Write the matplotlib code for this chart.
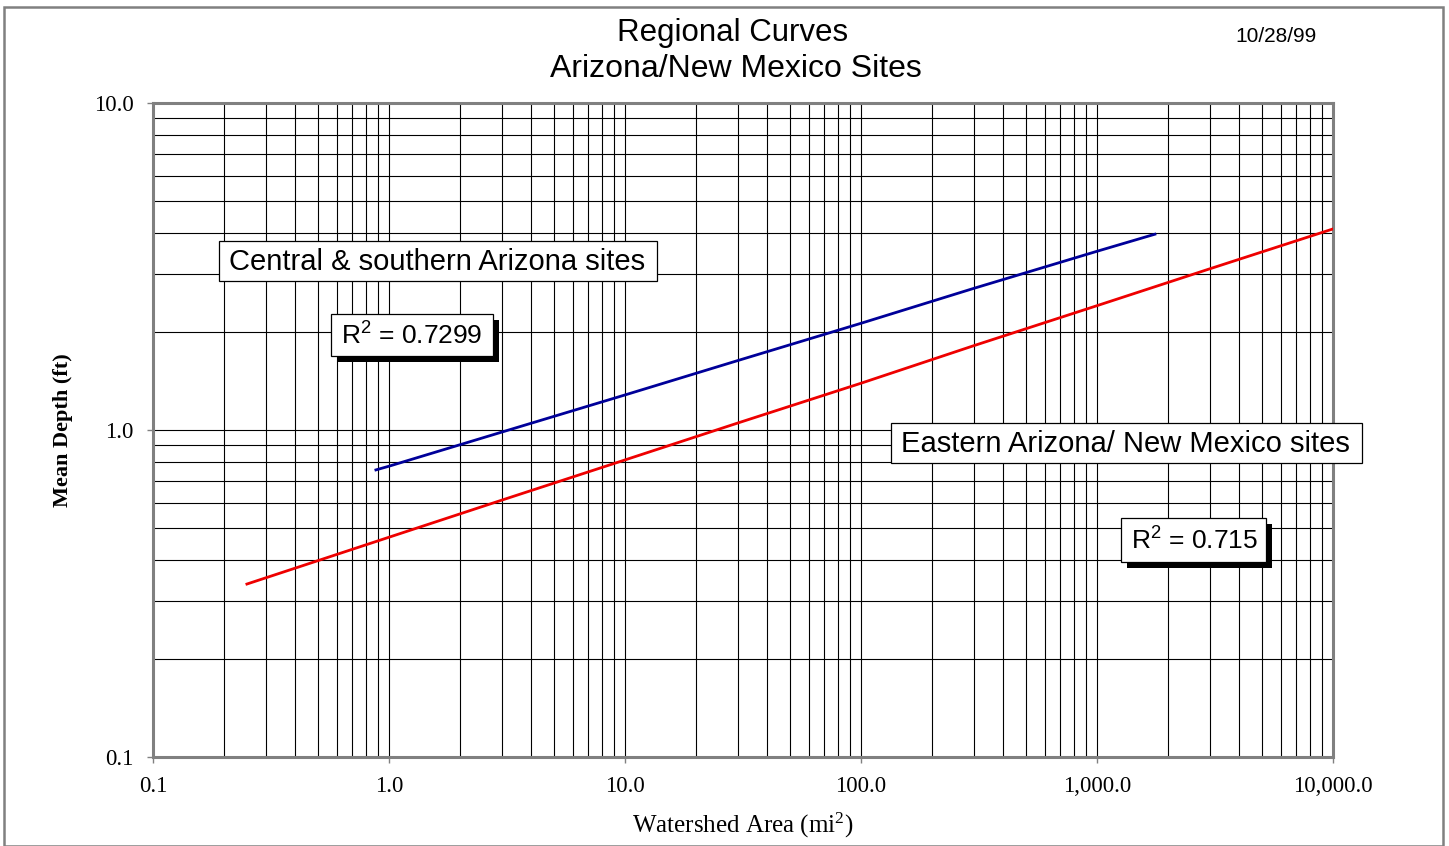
#!/usr/bin/env python3
"""Regional curves, Arizona/New Mexico sites - log-log plot of mean depth vs watershed area"""

import matplotlib
matplotlib.use('Agg')
import matplotlib.pyplot as plt
import matplotlib.patches as patches
from matplotlib.ticker import NullFormatter, LogLocator

# trend lines (watershed area mi^2 -> mean depth ft)
central_area = [0.88, 1.0, 3.0, 10.0, 30.0, 100.0, 300.0, 1000.0, 1760.0]
central_depth = [0.755, 0.775, 0.985, 1.28, 1.63, 2.12, 2.71, 3.52, 3.97]

eastern_area = [0.25, 1.0, 3.0, 10.0, 30.0, 100.0, 300.0, 1000.0, 3000.0, 10000.0]
eastern_depth = [0.338, 0.47, 0.61, 0.81, 1.05, 1.39, 1.81, 2.40, 3.11, 4.12]

x_ticks = [0.1, 1.0, 10.0, 100.0, 1000.0, 10000.0]
x_tick_labels = ['0.1', '1.0', '10.0', '100.0', '1,000.0', '10,000.0']
y_ticks = [0.1, 1.0, 10.0]
y_tick_labels = ['0.1', '1.0', '10.0']

W, H = 1449, 846
GREY = '#808080'
SANS = 'Liberation Sans'
SERIF = 'Liberation Serif'


def px(x, y):
    # pixel position (from top-left) -> figure fraction
    return x / W, 1 - y / H


def add_box(fig, x0, y0, x1, y1, text, shadow=False, fs=21):
    if shadow:
        sx, sy = px(x0 + 6, y1 + 6)
        fig.add_artist(patches.Rectangle((sx, sy), (x1 - x0) / W, (y1 - y0) / H,
                                         transform=fig.transFigure, facecolor='black',
                                         edgecolor='none', zorder=20))
    bx, by = px(x0, y1)
    fig.add_artist(patches.Rectangle((bx, by), (x1 - x0) / W, (y1 - y0) / H,
                                     transform=fig.transFigure, facecolor='white',
                                     edgecolor='black', linewidth=0.9, zorder=21))
    tx, ty = px(x0 + 10, (y0 + y1) / 2 + 1)
    fig.text(tx, ty, text, fontsize=fs, family=SANS, ha='left', va='center', zorder=22)


fig = plt.figure(figsize=(W / 100, H / 100), dpi=100, facecolor='white')
l, b = px(153, 757)
r, t = px(1333, 103)
ax = fig.add_axes([l, b, r - l, t - b])

ax.plot(central_area, central_depth, color='#000099', linewidth=2, zorder=5)
ax.plot(eastern_area, eastern_depth, color='#ee0000', linewidth=2, zorder=5)

ax.set_xscale('log')
ax.set_yscale('log')
ax.set_xlim(0.1, 10000)
ax.set_ylim(0.1, 10)

ax.set_xticks(x_ticks)
ax.set_xticklabels(x_tick_labels)
ax.set_yticks(y_ticks)
ax.set_yticklabels(y_tick_labels)
ax.xaxis.set_minor_locator(LogLocator(base=10, subs=range(2, 10)))
ax.yaxis.set_minor_locator(LogLocator(base=10, subs=range(2, 10)))
ax.xaxis.set_minor_formatter(NullFormatter())
ax.yaxis.set_minor_formatter(NullFormatter())

ax.grid(True, which='both', color='black', linewidth=0.8)
ax.set_axisbelow(True)
ax.tick_params(which='major', direction='out', length=4, width=1, color=GREY,
               labelsize=16.5, pad=10)
ax.tick_params(which='minor', length=0)
for lab in ax.get_xticklabels() + ax.get_yticklabels():
    lab.set_family(SERIF)
for sp in ax.spines.values():
    sp.set_color(GREY)
    sp.set_linewidth(2.2)

ax.set_xlabel(r'Watershed Area (mi$\mathregular{^2}$)', family=SERIF, fontsize=18, labelpad=10)
fig.text(63 / W, 1 - 430 / H, 'Mean Depth (ft)', family=SERIF, fontsize=16,
         fontweight='bold', rotation=90, ha='center', va='center')

# title and date
fig.text(*px(733, 33), 'Regional Curves', family=SANS, fontsize=22.5, ha='center', va='center')
fig.text(*px(736, 69), 'Arizona/New Mexico Sites', family=SANS, fontsize=23,
         ha='center', va='center')
fig.text(*px(1276, 36), '10/28/99', family=SANS, fontsize=15, ha='center', va='center')

# trendline annotations
add_box(fig, 219, 241, 657, 281, 'Central & southern Arizona sites')
add_box(fig, 331, 314, 493, 356, r'R$\mathregular{^2}$ = 0.7299', shadow=True, fs=19)
add_box(fig, 891, 423, 1362, 463, 'Eastern Arizona/ New Mexico sites')
add_box(fig, 1121, 518, 1266, 562, r'R$\mathregular{^2}$ = 0.715', shadow=True, fs=19)

# outer chart frame
fx, fy = px(4, 846)
fig.add_artist(patches.Rectangle((fx, fy), (1443 - 4) / W, (846 - 7) / H,
                                 transform=fig.transFigure, fill=False,
                                 edgecolor=GREY, linewidth=1.8, zorder=30))

fig.savefig('out.png', dpi=100, facecolor='white')
plt.close(fig)
